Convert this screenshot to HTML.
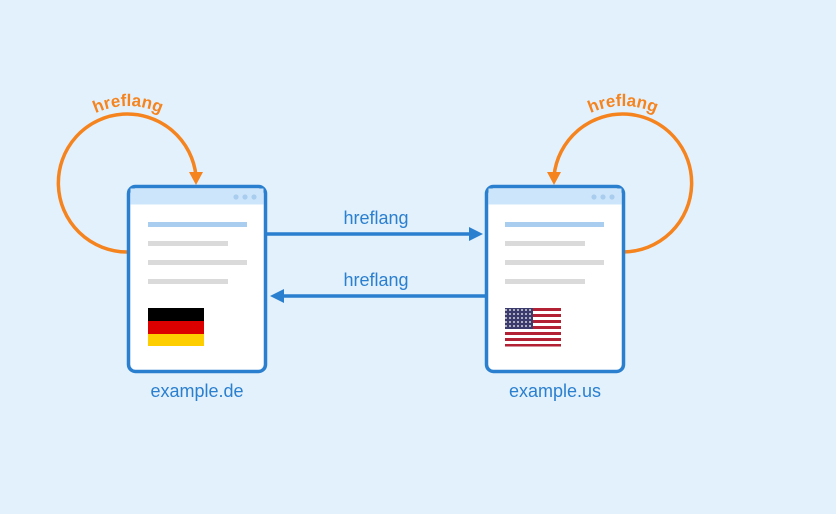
<!DOCTYPE html>
<html><head><style>html,body{margin:0;padding:0;background:#e3f1fc;}svg{display:block}</style></head>
<body>
<svg width="836" height="514" viewBox="0 0 836 514" xmlns="http://www.w3.org/2000/svg" font-family="Liberation Sans, sans-serif">
<defs>
<path id="lp" d="M51,183 A77,77 0 0 1 205,183"/>
<path id="rp" d="M546,183 A77,77 0 0 1 700,183"/>
<pattern id="stars" width="4" height="4" patternUnits="userSpaceOnUse"><rect width="4" height="4" fill="#3c3b6e"/><circle cx="2" cy="2" r="0.9" fill="#fff"/></pattern>
</defs>
<rect width="836" height="514" fill="#e3f1fc"/>
<!-- loops -->
<g fill="none" stroke="#f5841f" stroke-width="3.5">
<path d="M127,252 A69,69 0 1 1 196,176"/>
<path d="M623,252 A69,69 0 1 0 554,176"/>
</g>
<polygon points="189,172 203,172 196,185" fill="#f5841f"/>
<polygon points="547,172 561,172 554,185" fill="#f5841f"/>
<g fill="#f5841f" font-weight="bold" font-size="17">
<text><textPath href="#lp" startOffset="50%" text-anchor="middle">hreflang</textPath></text>
<text><textPath href="#rp" startOffset="50%" text-anchor="middle">hreflang</textPath></text>
</g>
<!-- boxes -->
<g>
<rect x="128.5" y="186.5" width="137" height="185" rx="7" fill="#fff" stroke="#2a7fcf" stroke-width="3.5"/>
<rect x="130.5" y="188.5" width="133" height="16" fill="#cde5fa"/>
<circle cx="236" cy="197" r="2.6" fill="#a9cdee"/><circle cx="245" cy="197" r="2.6" fill="#a9cdee"/><circle cx="254" cy="197" r="2.6" fill="#a9cdee"/>
<rect x="148" y="222" width="99" height="5" fill="#a9cdee"/>
<rect x="148" y="241" width="80" height="5" fill="#dadada"/>
<rect x="148" y="260" width="99" height="5" fill="#dadada"/>
<rect x="148" y="279" width="80" height="5" fill="#dadada"/>
<rect x="148" y="308" width="56" height="13" fill="#000"/>
<rect x="148" y="321" width="56" height="13" fill="#dd0000"/>
<rect x="148" y="334" width="56" height="12" fill="#ffce00"/>
</g>
<g>
<rect x="486.5" y="186.5" width="137" height="185" rx="7" fill="#fff" stroke="#2a7fcf" stroke-width="3.5"/>
<rect x="488.5" y="188.5" width="133" height="16" fill="#cde5fa"/>
<circle cx="594" cy="197" r="2.6" fill="#a9cdee"/><circle cx="603" cy="197" r="2.6" fill="#a9cdee"/><circle cx="612" cy="197" r="2.6" fill="#a9cdee"/>
<rect x="505" y="222" width="99" height="5" fill="#a9cdee"/>
<rect x="505" y="241" width="80" height="5" fill="#dadada"/>
<rect x="505" y="260" width="99" height="5" fill="#dadada"/>
<rect x="505" y="279" width="80" height="5" fill="#dadada"/>
<rect x="505" y="308" width="56" height="38" fill="#fff"/>
<g fill="#b22234">
<rect x="505" y="308" width="56" height="3"/><rect x="505" y="314" width="56" height="3"/><rect x="505" y="320" width="56" height="3"/><rect x="505" y="326" width="56" height="3"/><rect x="505" y="332" width="56" height="3"/><rect x="505" y="338" width="56" height="3"/><rect x="505" y="344" width="56" height="2.5"/>
</g>
<rect x="505" y="308" width="28" height="21" fill="url(#stars)"/>
</g>
<!-- arrows -->
<g stroke="#2a7fcf" stroke-width="3.5">
<line x1="267" y1="234" x2="472" y2="234"/>
<line x1="485" y1="296" x2="280" y2="296"/>
</g>
<polygon points="483,234 469,227 469,241" fill="#2a7fcf"/>
<polygon points="270,296 284,289 284,303" fill="#2a7fcf"/>
<g fill="#2a7fcf" font-size="18" text-anchor="middle">
<text x="376" y="224">hreflang</text>
<text x="376" y="286">hreflang</text>
<text x="197" y="397">example.de</text>
<text x="555" y="397">example.us</text>
</g>
</svg>
</body></html>
